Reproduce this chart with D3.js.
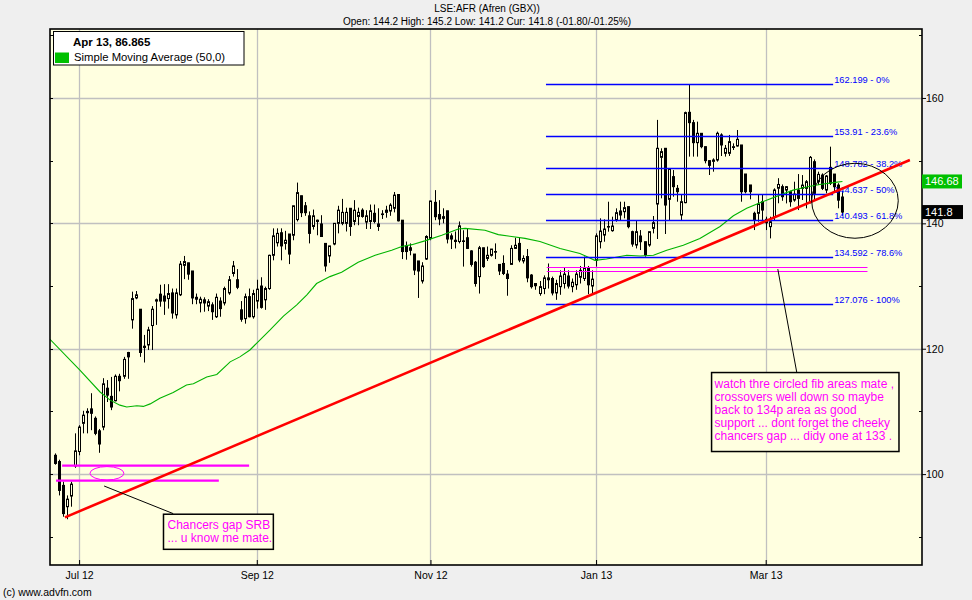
<!DOCTYPE html>
<html><head><meta charset="utf-8">
<script src="https://cdn.jsdelivr.net/npm/d3@7"></script>
<style>
body{margin:0;background:#efefef;}
svg{display:block;}
text{font-family:"Liberation Sans",Arial,Helvetica,sans-serif;}
</style>
</head><body>
<svg id="c" width="972" height="600"></svg>
<script>
// ---------- DATA ----------
const openP=[103.0,102.0,98.2,94.8,96.5,101.3,103.6,108.1,109.8,110.4,108.9,106.9,107.5,113.7,112.4,111.7,115.6,115.6,119.4,124.6,
128.1,126.3,120.4,120.6,123.7,127.6,128.7,128.4,128.0,128.9,125.4,128.6,133.3,133.7,132.4,128.2,127.3,127.8,126.8,127.0,
125.1,127.6,127.3,128.9,132.0,131.0,126.2,124.8,128.3,125.1,127.6,130.0,127.8,129.6,134.9,136.9,138.5,136.8,138.3,138.1,
140.6,144.4,142.8,141.2,139.5,140.5,139.9,136.8,134.8,136.7,140.0,140.0,140.0,142.4,140.3,141.1,142.1,140.2,140.3,141.6,
139.9,141.4,141.75,141.96,142.4,144.6,140.5,136.4,136.1,135.1,134.0,130.8,134.3,137.6,143.35,141.4,141.06,142.0,138.0,137.3,
137.1,137.2,137.7,135.6,133.8,131.5,136.1,134.4,134.9,135.5,133.45,133.6,131.9,133.45,136.0,136.8,134.0,134.7,131.75,130.4,
128.8,129.6,131.0,131.2,128.9,129.9,130.4,131.6,129.9,130.2,131.4,131.2,132.8,130.0,134.1,137.07,138.13,139.4,138.83,140.53,
141.97,141.86,142.66,138.67,136.54,137.98,137.07,136.54,139.2,143.08,150.53,151.97,143.83,147.45,145.58,141.33,143.3,157.71,156.06,152.87,
154.36,152.23,150.0,149.89,150.1,154.1,151.17,151.17,152.1,152.34,152.5,147.87,146.12,141.6,141.6,143.45,140.64,139.47,141.06,145.6,
145.85,145.31,145.05,143.72,145.31,145.58,145.58,143.45,149.83,146.64,147.7,145.31,148.93,147.86,146.1,144.2];
const highP=[103.3,102.3,98.8,96.6,98.8,106.5,107.8,110.1,110.5,112.9,109.2,107.2,115.3,115.0,115.5,115.9,116.0,118.7,119.5,129.1,
129.2,126.3,122.2,123.5,126.8,128.0,130.2,130.3,130.3,129.6,129.6,134.0,134.8,133.7,132.4,128.8,128.3,128.2,127.9,127.4,
128.8,128.2,129.9,131.6,134.0,132.7,127.6,128.8,129.6,129.4,131.0,131.4,129.9,135.0,139.2,139.2,139.2,138.8,138.3,142.8,
146.5,144.4,143.4,141.9,142.2,140.6,141.3,136.8,136.4,140.0,142.8,143.9,142.5,142.4,143.7,142.5,142.4,142.1,143.0,143.0,
142.4,142.1,142.8,143.2,145.0,144.6,140.5,137.1,136.8,135.1,134.0,133.8,138.1,143.6,145.3,143.7,142.4,142.0,138.4,138.7,
140.3,138.9,139.1,135.7,134.0,136.4,136.1,136.3,135.9,136.8,133.45,134.9,132.55,136.5,137.7,137.7,134.9,135.9,131.9,130.4,
130.8,131.7,133.6,131.5,131.0,132.5,132.9,132.5,131.2,132.5,133.2,134.7,133.2,132.5,138.4,140.8,140.64,143.45,141.06,142.39,
143.45,143.45,142.66,138.83,140.53,138.93,137.07,138.67,141.17,156.5,151.97,151.97,148.78,148.5,146.12,144.52,157.82,162.07,156.5,156.22,
154.36,152.23,150.0,150.37,154.63,154.36,152.5,154.1,152.76,154.89,152.5,147.87,146.12,141.86,144.52,144.68,141.06,141.06,145.58,147.2,
146.2,145.95,145.2,146.64,147.86,147.7,146.9,150.74,150.2,148.24,147.97,147.7,152.23,147.86,146.4,145.2];
const lowP=[101.5,96.6,93.2,92.8,94.8,101.0,103.0,106.5,106.5,107.0,106.2,103.4,107.0,111.5,110.2,111.6,113.2,115.2,115.2,123.2,
127.9,118.7,117.8,119.8,119.8,123.8,126.7,125.4,126.4,124.8,124.8,128.4,131.1,131.0,127.1,127.1,125.8,125.9,126.0,124.6,
124.9,125.1,126.9,128.6,131.5,129.5,124.3,124.0,125.0,124.8,126.4,126.4,126.2,129.4,134.1,136.3,134.1,135.8,133.5,137.3,
140.3,141.0,141.2,136.8,139.0,138.1,137.9,132.3,133.7,136.5,138.4,139.7,138.7,138.0,139.7,139.7,140.9,139.1,139.1,140.0,
138.8,140.7,140.9,141.2,141.75,140.3,134.3,134.2,134.9,131.75,128.1,130.4,134.15,137.3,140.5,139.7,140.0,136.8,135.9,136.0,
136.8,133.1,135.9,133.1,129.9,128.8,132.9,134.0,134.7,134.3,131.75,131.75,128.45,133.45,135.9,133.8,133.6,130.6,129.6,129.4,
128.45,128.7,129.6,128.5,127.8,128.6,129.6,129.6,129.0,129.4,130.4,130.8,128.7,128.7,133.1,136.0,137.07,138.67,138.67,140.26,
140.53,140.8,139.2,136.27,136.0,135.74,134.68,136.27,138.4,137.5,143.99,138.3,140.53,144.25,143.45,140.53,143.2,150.64,150.64,150.64,
151.97,149.57,147.71,148.24,149.84,150.74,150.64,150.74,151.7,152.23,143.45,144.78,143.83,138.93,140.26,140.53,138.93,137.6,140.53,143.2,
143.6,143.18,142.65,143.45,142.12,143.72,142.39,143.18,143.72,146.11,145.31,144.78,146.11,145.05,142.4,141.2];
const closeP=[101.7,97.4,93.7,96.0,98.4,103.7,107.5,109.4,110.0,109.7,106.5,104.8,114.4,112.6,110.7,115.6,114.9,118.3,118.7,128.0,
128.6,119.4,120.2,123.0,126.3,127.8,127.6,127.6,128.8,125.7,128.9,133.5,133.9,131.9,128.1,127.9,127.9,127.3,127.5,125.9,
128.2,126.4,129.6,131.0,133.2,129.8,124.7,128.3,125.1,128.8,129.5,126.6,129.6,134.9,138.0,138.4,136.4,137.3,135.1,142.8,
144.9,141.7,141.7,138.4,141.2,140.3,137.9,133.2,136.4,140.0,142.1,141.75,141.75,139.5,142.1,141.75,141.1,141.2,142.0,140.3,
139.5,141.5,142.1,142.9,144.5,140.4,135.5,135.5,135.7,132.55,132.4,133.2,137.9,143.56,141.06,140.7,140.8,137.5,137.5,137.1,
139.6,137.18,136.0,133.45,130.4,136.1,133.1,134.9,135.9,135.45,132.4,132.0,131.2,136.0,136.5,134.15,134.4,131.3,129.9,130.05,
129.9,131.3,131.3,128.9,130.4,131.6,131.9,130.0,130.6,131.9,132.5,132.8,130.2,131.1,138.0,138.77,139.09,139.5,139.57,141.7,
141.33,142.5,139.47,136.7,138.67,137.07,134.95,138.67,140.1,151.97,151.44,142.92,148.62,145.85,145.05,143.45,157.66,156.06,152.87,154.36,
152.23,150.0,149.25,150.1,154.36,152.5,151.97,153.03,152.23,153.4,145.05,145.05,145.05,140.53,143.08,142.12,140.1,140.26,145.32,146.2,
144.25,145.85,143.45,144.67,143.98,146.1,146.64,150.52,144.78,147.81,145.58,147.55,146.38,145.84,143.7,141.8];

const monthLabels=["Jul 12","Sep 12","Nov 12","Jan 13","Mar 13"];
const monthIdx=[6,50,93,134,176];
const yMinorVals=[90,110,130,150,170];
const yLabelVals=[100,120,140,160];

const smaIdx=[-1.2,6.2,11.2,13.7,16.1,17.8,20.3,21.9,23.6,26.0,29.3,32.6,34.3,37.6,40.1,43.4,45.8,48.3,50.0,53.3,
56.6,59.9,62.4,64.8,68.1,71.0,75.1,79.3,83.4,85.9,88.4,91.6,95.8,99.9,101.6,106.5,109.8,113.1,116.4,120.1,
125.1,130.0,133.7,136.6,141.6,144.9,148.2,151.5,155.6,159.7,164.7,168.0,171.3,176.2,179.5,182.8,186.1,189.4,192.7,195];
const smaVal=[121.5,116.6,113.1,111.8,111.0,110.7,110.9,110.8,111.2,112.1,113.0,114.2,114.4,115.5,115.9,117.9,118.7,119.8,120.9,123.0,
125.2,127.0,128.6,130.4,131.5,132.2,133.8,134.9,135.7,136.3,136.6,137.2,138.1,139.1,139.2,138.9,138.2,137.9,137.6,137.1,
136.0,135.2,134.1,134.3,134.9,134.8,134.9,135.7,136.5,137.6,139.5,141.2,142.4,143.7,144.5,145.3,145.8,146.2,146.5,146.68];

const fibLevels=[162.199,153.91,148.782,144.637,140.493,134.592,127.076];
const fibPct=["0%","23.6%","38.2%","50%","61.8%","78.6%","100%"];
const fibRange=[121.6,192.7];

const gapLines=[{v:101.34,a:1.8,b:48.1},{v:98.95,a:0.3,b:40.6}];
const lines133=[133.0,132.35];
const lines133Range=[121.8,201.2];
const trend=[{i:2.5,v:93.1},{i:211.7,v:150.1}];

const titleText="LSE:AFR (Afren (GBX))";
const subText="Open: 144.2 High: 145.2 Low: 141.2 Cur: 141.8 (-01.80/-01.25%)";
const legendHead="Apr 13, 86.865";
const legendSma="Simple Moving Average (50,0)";
const smaLast=146.68, curLast=141.8;
const note1=["Chancers gap SRB","... u know me mate."];
const note2=["watch thre circled fib areas mate ,","crossovers well down so maybe","back to 134p area as good","support ... dont forget the cheeky","chancers gap ... didy one at 133 ."];

// ---------- CHART ----------
const W=972,H=600,L=50,R=922,T=29,B=565;
const x=d3.scaleLinear().domain([-1.2,214.7]).range([L,R]);
const y=d3.scaleLinear().domain([85.5,171]).range([B,T]);
const svg=d3.select("#c");
svg.append("rect").attr("width",W).attr("height",H).attr("fill","#efefef");
svg.append("rect").attr("x",L).attr("y",T).attr("width",R-L).attr("height",B-T).attr("fill","#ffffe0");
svg.append("clipPath").attr("id","clip").append("rect").attr("x",L).attr("y",T).attr("width",R-L).attr("height",B-T);
const g=svg.append("g").attr("clip-path","url(#clip)");

// grid
g.selectAll(".vg").data(monthIdx).join("line")
 .attr("x1",d=>Math.round(x(d))+0.5).attr("x2",d=>Math.round(x(d))+0.5)
 .attr("y1",T).attr("y2",B).attr("stroke","#c0c0c0").attr("stroke-width",1.3);
g.selectAll(".hg").data(yLabelVals).join("line")
 .attr("x1",L).attr("x2",R)
 .attr("y1",d=>Math.round(y(d))+0.5).attr("y2",d=>Math.round(y(d))+0.5)
 .attr("stroke","#c0c0c0").attr("stroke-width",1.3);

// candles
const candles=d3.range(openP.length).map(i=>({i,o:openP[i],h:highP[i],l:lowP[i],c:closeP[i]}));
g.selectAll(".wick").data(candles).join("line")
 .attr("x1",d=>Math.round(x(d.i))+0.5).attr("x2",d=>Math.round(x(d.i))+0.5)
 .attr("y1",d=>y(d.h)).attr("y2",d=>y(d.l)).attr("stroke","#000").attr("stroke-width",1);
g.selectAll(".body").data(candles).join("rect")
 .attr("x",d=>Math.round(x(d.i))-0.5).attr("width",2)
 .attr("y",d=>y(Math.max(d.o,d.c)))
 .attr("height",d=>Math.max(0.6,Math.abs(y(d.o)-y(d.c))))
 .attr("fill",d=>d.c>=d.o?"#ffffe0":"#000")
 .attr("stroke","#000").attr("stroke-width",1);

// SMA
const sma=smaIdx.map((d,k)=>[d,smaVal[k]]);
g.append("path").datum(sma)
 .attr("d",d3.line().x(d=>x(d[0])).y(d=>y(d[1])))
 .attr("fill","none").attr("stroke","#00b400").attr("stroke-width",1.1);

// fib lines
g.selectAll(".fib").data(fibLevels).join("line")
 .attr("x1",x(fibRange[0])).attr("x2",x(fibRange[1]))
 .attr("y1",d=>Math.round(y(d))+0.5).attr("y2",d=>Math.round(y(d))+0.5)
 .attr("stroke","#0000ff").attr("stroke-width",1.3);
g.selectAll(".fibt").data(fibLevels).join("text")
 .attr("x",x(fibRange[1])+1).attr("y",d=>y(d)-1.5)
 .attr("font-size",9.3).attr("fill","#0000ff")
 .text((d,k)=>d+" - "+fibPct[k]);

// 133 magenta thin lines
g.selectAll(".l133").data(lines133).join("line")
 .attr("x1",x(lines133Range[0])).attr("x2",x(lines133Range[1]))
 .attr("y1",d=>Math.round(y(d))+0.5).attr("y2",d=>Math.round(y(d))+0.5)
 .attr("stroke","#ff00ff").attr("stroke-width",1);

// chancers gap thick lines
g.selectAll(".gap").data(gapLines).join("line")
 .attr("x1",d=>x(d.a)).attr("x2",d=>x(d.b))
 .attr("y1",d=>y(d.v)).attr("y2",d=>y(d.v))
 .attr("stroke","#ff00ff").attr("stroke-width",2.2);

// small ellipse (magenta)
g.append("ellipse").attr("cx",x(12.9)).attr("cy",y(100.13))
 .attr("rx",x(12.9+4.2)-x(12.9)).attr("ry",y(100.13)-y(101.2))
 .attr("fill","none").attr("stroke","#ff00ff").attr("stroke-width",1);

// red trend line
g.append("line").attr("x1",x(trend[0].i)).attr("y1",y(trend[0].v))
 .attr("x2",x(trend[1].i)).attr("y2",y(trend[1].v))
 .attr("stroke","#ff0000").attr("stroke-width",2.6);

// big ellipse
g.append("ellipse").attr("cx",x(198.1)).attr("cy",y(143.6))
 .attr("rx",x(198.1+10.72)-x(198.1)).attr("ry",y(143.6)-y(149.58))
 .attr("fill","none").attr("stroke","#000").attr("stroke-width",1);

// annotation 1
g.append("line").attr("x1",x(12.2)).attr("y1",y(98.1)).attr("x2",x(29.3)).attr("y2",y(93.7))
 .attr("stroke","#000").attr("stroke-width",1);
const b1={x0:x(26.9),x1:x(54.1),y0:y(93.6),y1:y(88.0)};
g.append("rect").attr("x",b1.x0).attr("y",b1.y0).attr("width",b1.x1-b1.x0).attr("height",b1.y1-b1.y0)
 .attr("fill","#ffffe0").attr("stroke","#000").attr("stroke-width",1.5);
g.selectAll(".n1").data(note1).join("text")
 .attr("x",b1.x0+4).attr("y",(d,k)=>b1.y0+15+k*13)
 .attr("font-size",12).attr("fill","#ff00ff").text(d=>d);

// annotation 2
g.append("line").attr("x1",x(179.0)).attr("y1",y(132.7)).attr("x2",x(183.7)).attr("y2",y(116.2))
 .attr("stroke","#000").attr("stroke-width",1);
const b2={x0:x(162.6),x1:x(209.0),y0:y(116.2),y1:y(103.6)};
g.append("rect").attr("x",b2.x0).attr("y",b2.y0).attr("width",b2.x1-b2.x0).attr("height",b2.y1-b2.y0)
 .attr("fill","#ffffe0").attr("stroke","#000").attr("stroke-width",1.5);
g.selectAll(".n2").data(note2).join("text")
 .attr("x",b2.x0+3).attr("y",(d,k)=>b2.y0+15+k*13)
 .attr("font-size",12).attr("fill","#ff00ff").text(d=>d);

// left inner ticks
svg.selectAll(".lt").data(yMinorVals.concat(yLabelVals)).join("line")
 .attr("x1",L).attr("x2",L+3).attr("y1",d=>Math.round(y(d))+0.5).attr("y2",d=>Math.round(y(d))+0.5)
 .attr("stroke","#000");
// right minor ticks (inside)
svg.selectAll(".rt").data(yMinorVals).join("line")
 .attr("x1",R-3).attr("x2",R).attr("y1",d=>Math.round(y(d))+0.5).attr("y2",d=>Math.round(y(d))+0.5)
 .attr("stroke","#000");

// right axis
const ra=svg.append("g").attr("transform",`translate(${R},0)`)
 .call(d3.axisRight(y).tickValues(yLabelVals).tickSize(4).tickPadding(0).tickFormat(d3.format("d")));
ra.select(".domain").remove();
ra.selectAll("text").attr("font-size",10.5).attr("font-family","'Liberation Sans',Arial,sans-serif").attr("fill","#000");

// bottom axis
const ba=svg.append("g").attr("transform",`translate(0,${B})`)
 .call(d3.axisBottom(x).tickValues(monthIdx).tickSizeInner(-5).tickSizeOuter(0).tickPadding(7).tickFormat((d,k)=>monthLabels[k]));
ba.select(".domain").remove();
ba.selectAll("text").attr("font-size",10.5).attr("font-family","'Liberation Sans',Arial,sans-serif").attr("fill","#000");

// plot border
svg.append("rect").attr("x",L).attr("y",T).attr("width",R-L).attr("height",B-T)
 .attr("fill","none").attr("stroke","#000").attr("stroke-width",1.6);

// right value labels
svg.append("rect").attr("x",R).attr("y",y(smaLast)-7).attr("width",40).attr("height",14).attr("fill","#00c000");
svg.append("text").attr("x",R+3).attr("y",y(smaLast)+4).attr("font-size",11).attr("fill","#fff").text(smaLast);
svg.append("rect").attr("x",R).attr("y",y(curLast)-7).attr("width",41).attr("height",14).attr("fill","#000");
svg.append("text").attr("x",R+3).attr("y",y(curLast)+4).attr("font-size",11).attr("fill","#fff").text(curLast);

// legend
svg.append("rect").attr("x",53.5).attr("y",31.5).attr("width",190.5).attr("height",33.5)
 .attr("fill","#fff").attr("stroke","#000").attr("stroke-width",1);
svg.append("text").attr("x",73).attr("y",45.5).attr("font-size",11.5).attr("font-weight","bold").text(legendHead);
svg.append("rect").attr("x",55).attr("y",52.5).attr("width",14).attr("height",10.5).attr("fill","#00c000");
svg.append("text").attr("x",74).attr("y",60.5).attr("font-size",11.3).text(legendSma);

// titles
svg.append("text").attr("x",487).attr("y",12).attr("text-anchor","middle").attr("font-size",10).text(titleText);
svg.append("text").attr("x",487).attr("y",25).attr("text-anchor","middle").attr("font-size",10).text(subText);
svg.append("text").attr("x",3).attr("y",596).attr("font-size",10.5).text("(c) www.advfn.com");
</script>
</body></html>
